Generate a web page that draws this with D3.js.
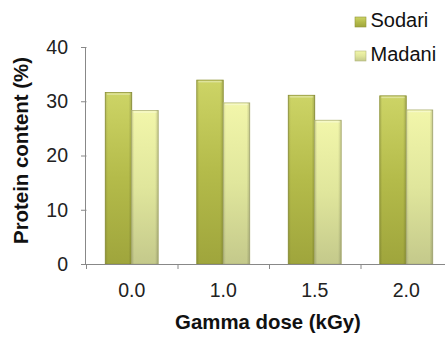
<!DOCTYPE html>
<html>
<head>
<meta charset="utf-8">
<script src="https://cdn.jsdelivr.net/npm/d3@7"></script>
<style>
  body { margin: 0; background: #fff; overflow: hidden; }
  svg { display: block; font-family: 'Liberation Sans', Arial, sans-serif; }
  .axis-label { font-size: 20.4px; font-weight: bold; fill: #111; }
</style>
</head>
<body>
<svg width="445" height="340"></svg>
<script>
const doses = ['0.0', '1.0', '1.5', '2.0'];
const varieties = ['Sodari', 'Madani'];
const sodari = [31.6, 33.9, 31.1, 31.0];
const madani = [28.3, 29.7, 26.5, 28.4];
const yTicks = [0, 10, 20, 30, 40];

const svg = d3.select('svg');
const width = +svg.attr('width');
const height = +svg.attr('height');

const margin = { top: 47, right: -7, bottom: 76, left: 86 };
const innerWidth = width - margin.left - margin.right;
const innerHeight = height - margin.top - margin.bottom;

const data = doses.map((d, i) => ({ dose: d, Sodari: sodari[i], Madani: madani[i] }));

// gradients for the bevelled look
const defs = svg.append('defs');
const grads = {
  Sodari: ['#cdd466', '#b4bb4a', '#9fa53c'],
  Madani: ['#f2f6aa', '#e0e69c', '#c4c98b']
};
Object.entries(grads).forEach(([k, c]) => {
  const lg = defs.append('linearGradient')
    .attr('id', 'g-' + k).attr('x1', 0).attr('y1', 0).attr('x2', 0).attr('y2', 1);
  lg.append('stop').attr('offset', '0%').attr('stop-color', c[0]);
  lg.append('stop').attr('offset', '50%').attr('stop-color', c[1]);
  lg.append('stop').attr('offset', '100%').attr('stop-color', c[2]);
});
const side = defs.append('linearGradient')
  .attr('id', 'side').attr('x1', 0).attr('y1', 0).attr('x2', 1).attr('y2', 0);
side.append('stop').attr('offset', '0%').attr('stop-color', '#000').attr('stop-opacity', 0.12);
side.append('stop').attr('offset', '10%').attr('stop-color', '#000').attr('stop-opacity', 0);
side.append('stop').attr('offset', '88%').attr('stop-color', '#000').attr('stop-opacity', 0);
side.append('stop').attr('offset', '100%').attr('stop-color', '#000').attr('stop-opacity', 0.18);

const g = svg.append('g')
  .attr('transform', `translate(${margin.left}, ${margin.top})`);

const xScale = d3.scaleBand()
  .domain(doses)
  .range([0, innerWidth]);

const xInner = d3.scaleBand()
  .domain(varieties)
  .range([0, 53])
  .padding(0);

const yScale = d3.scaleLinear()
  .domain([0, 40])
  .range([innerHeight, 0]);

// y axis
const yAxis = d3.axisLeft(yScale)
  .tickValues(yTicks)
  .tickSize(5)
  .tickPadding(13);
const yAxisG = g.append('g').call(yAxis)
  .attr('font-size', 19.5)
  .attr('font-family', null);
yAxisG.select('.domain').attr('stroke', '#888').attr('d', `M-0.5,0V${innerHeight}`);
yAxisG.selectAll('.tick line').attr('stroke', '#888').attr('x1', 0.5);
yAxisG.selectAll('.tick text').attr('fill', '#222');

// bars
const groups = g.selectAll('.group').data(data)
  .enter().append('g')
    .attr('class', 'group')
    .attr('transform', d => `translate(${xScale(d.dose) + xScale.bandwidth() / 2 - 26.5}, 0)`);

varieties.forEach(v => {
  groups.append('rect')
    .attr('x', xInner(v))
    .attr('y', d => yScale(d[v]))
    .attr('width', xInner.bandwidth())
    .attr('height', d => innerHeight - yScale(d[v]))
    .attr('fill', `url(#g-${v})`)
    .attr('stroke', v === 'Sodari' ? '#8f9436' : '#b2b67c')
    .attr('stroke-width', 0.8);
  groups.append('rect')
    .attr('x', xInner(v))
    .attr('y', d => yScale(d[v]))
    .attr('width', xInner.bandwidth())
    .attr('height', d => innerHeight - yScale(d[v]))
    .attr('fill', 'url(#side)');
  groups.append('rect')
    .attr('x', xInner(v) + 1.5)
    .attr('y', d => yScale(d[v]) + 0.8)
    .attr('width', xInner.bandwidth() - 3)
    .attr('height', 1.5)
    .attr('fill', '#fff')
    .attr('opacity', 0.35);
});

// x axis
const xAxis = d3.axisBottom(xScale)
  .tickSize(0)
  .tickPadding(18.7);
const xAxisG = g.append('g').call(xAxis)
  .attr('transform', `translate(0, ${innerHeight})`)
  .attr('font-size', 19.5)
  .attr('font-family', null);
xAxisG.select('.domain').attr('stroke', '#888');
xAxisG.selectAll('.tick text').attr('fill', '#222');
xAxisG.selectAll('.sep').data(doses)
  .enter().append('line')
    .attr('class', 'sep')
    .attr('x1', d => xScale(d) + 0.5)
    .attr('x2', d => xScale(d) + 0.5)
    .attr('y1', 0).attr('y2', 5)
    .attr('stroke', '#888');

g.append('text')
  .attr('class', 'axis-label')
  .attr('text-anchor', 'middle')
  .attr('x', 182)
  .attr('y', innerHeight + 64.5)
  .text('Gamma dose (kGy)');

g.append('text')
  .attr('class', 'axis-label')
  .attr('text-anchor', 'middle')
  .attr('transform', `translate(${-58.2}, ${103.5}) rotate(-90)`)
  .text('Protein content (%)');

// legend
const legend = svg.append('g').attr('transform', 'translate(355, 17)');
varieties.forEach((v, i) => {
  const lg = legend.append('g').attr('transform', `translate(0, ${i * 34})`);
  lg.append('rect')
    .attr('width', 11).attr('height', 10)
    .attr('fill', `url(#g-${v})`)
    .attr('stroke', v === 'Sodari' ? '#8f9436' : '#b2b67c')
    .attr('stroke-width', 0.6);
  lg.append('text')
    .attr('x', 15.5).attr('y', 10)
    .attr('font-size', 20)
    .attr('fill', '#111')
    .text(v);
});
</script>
</body>
</html>
